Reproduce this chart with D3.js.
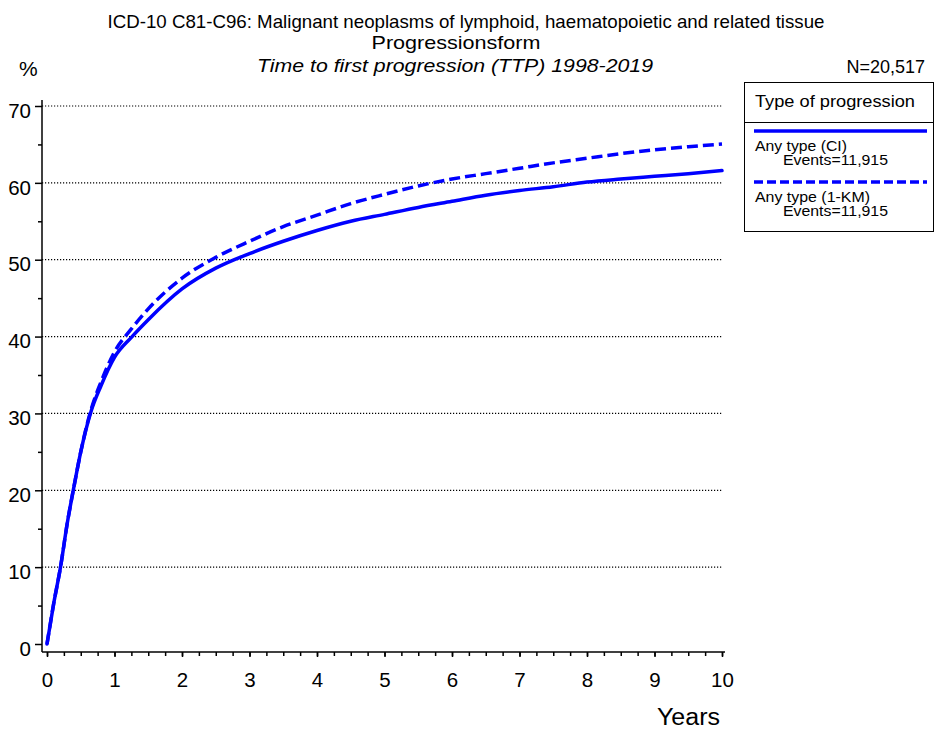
<!DOCTYPE html>
<html>
<head>
<meta charset="utf-8">
<script src="https://cdn.jsdelivr.net/npm/d3@7"></script>
<style>
  body { margin: 0; background: #fff; }
  svg text { font-family: Arial, "Liberation Sans", sans-serif; fill: #000; }
</style>
</head>
<body>
<svg id="chart" width="938" height="729"></svg>
<script>
// ------- data -------
var years = [0, 0.1, 0.2, 0.3, 0.4, 0.5, 0.65, 0.8, 1.0, 1.25, 1.5, 2.0, 2.5, 3.0, 3.5, 4.0,
             4.5, 5.0, 5.5, 6.0, 6.5, 7.0, 7.5, 8.0, 8.5, 9.0, 9.5, 10];
var anyCI = [0, 5.3, 10, 15.7, 20.5, 25, 30.2, 33.6, 37.3, 39.9, 42.2, 46.2, 48.9, 50.8, 52.4, 53.8,
             55.0, 55.9, 56.8, 57.6, 58.4, 59.0, 59.5, 60.1, 60.5, 60.85, 61.2, 61.6];
var anyKM = [0, 5.3, 10, 15.7, 20.5, 25, 30.4, 34.1, 38.0, 41.0, 43.6, 47.6, 50.3, 52.4, 54.3, 55.8,
             57.3, 58.5, 59.6, 60.5, 61.2, 61.9, 62.6, 63.2, 63.8, 64.3, 64.7, 65.05];
var yTicks = [0, 10, 20, 30, 40, 50, 60, 70];
var xTicks = [0, 1, 2, 3, 4, 5, 6, 7, 8, 9, 10];
var seriesNames = ["Any type (CI)", "Any type (1-KM)"];
var seriesEvents = ["Events=11,915", "Events=11,915"];

var svg = d3.select("#chart");

var x = d3.scaleLinear().domain([0, 10]).range([47, 722]);
var y = d3.scaleLinear().domain([0, 70]).range([644, 106]);

// ------- titles -------
svg.append("text").attr("x", 466).attr("y", 28).attr("text-anchor", "middle")
    .style("font-size", "18.5px")
    .attr("textLength", 717).attr("lengthAdjust", "spacingAndGlyphs")
    .text("ICD-10 C81-C96: Malignant neoplasms of lymphoid, haematopoietic and related tissue");
svg.append("text").attr("x", 456).attr("y", 49).attr("text-anchor", "middle")
    .style("font-size", "18.5px")
    .attr("textLength", 169).attr("lengthAdjust", "spacingAndGlyphs")
    .text("Progressionsform");
svg.append("text").attr("x", 455).attr("y", 72).attr("text-anchor", "middle")
    .style("font-size", "18.5px").style("font-style", "italic")
    .attr("textLength", 396).attr("lengthAdjust", "spacingAndGlyphs")
    .text("Time to first progression (TTP) 1998-2019");
svg.append("text").attr("x", 19).attr("y", 76).style("font-size", "21px").text("%");
svg.append("text").attr("x", 925).attr("y", 73).attr("text-anchor", "end")
    .style("font-size", "18px").text("N=20,517");

// ------- grid -------
svg.append("g").selectAll("line")
    .data(yTicks.filter(function (d) { return d > 0; }))
    .enter().append("line")
    .attr("x1", 42).attr("x2", 723)
    .attr("y1", function (d) { return y(d); })
    .attr("y2", function (d) { return y(d); })
    .attr("stroke", "#000").attr("stroke-width", 1.2)
    .attr("stroke-dasharray", "1.2,1.8");

// ------- axes -------
var yAxis = d3.axisLeft(y).tickValues(yTicks).tickSize(7).tickPadding(4);
var gy = svg.append("g").attr("transform", "translate(42,0)").call(yAxis);
gy.select(".domain").attr("d", "M0," + 652 + "V" + 100).attr("stroke-width", 1.5);
gy.selectAll(".tick line").attr("stroke-width", 1.5);
gy.selectAll(".tick text").style("font-size", "20.5px").attr("font-family", null).attr("dy", "0.55em");

var gyMinor = d3.axisLeft(y).tickValues([5, 15, 25, 35, 45, 55, 65]).tickSize(4).tickFormat("");
svg.append("g").attr("transform", "translate(42,0)").call(gyMinor)
    .call(function (g) { g.select(".domain").remove(); })
    .selectAll("line").attr("stroke-width", 1.5);

var minorX = d3.range(0, 41).map(function (i) { return i / 4; });
var gxMinor = d3.axisBottom(x).tickValues(minorX).tickSize(4).tickFormat("");
var gx = svg.append("g").attr("transform", "translate(0,652)").call(gxMinor);
gx.select(".domain").attr("d", "M42,0H725").attr("stroke-width", 1.5);
gx.selectAll("line").attr("stroke-width", 1.5);

var xAxis = d3.axisBottom(x).tickValues(xTicks).tickSize(5).tickPadding(15);
var gx2 = svg.append("g").attr("transform", "translate(0,652)").call(xAxis);
gx2.select(".domain").remove();
gx2.selectAll(".tick line").attr("stroke-width", 1.5);
gx2.selectAll(".tick text").style("font-size", "20.5px").attr("font-family", null);

svg.append("text").attr("x", 720).attr("y", 725).attr("text-anchor", "end")
    .style("font-size", "23px")
    .attr("textLength", 63).attr("lengthAdjust", "spacingAndGlyphs")
    .text("Years");

// ------- curves -------
var line = d3.line()
    .x(function (d) { return x(d[0]); })
    .y(function (d) { return y(d[1]); })
    .curve(d3.curveMonotoneX);

svg.append("path")
    .datum(years.map(function (t, i) { return [t, anyCI[i]]; }))
    .attr("d", line).attr("fill", "none")
    .attr("stroke", "#0000ff").attr("stroke-width", 3.5)
    .attr("stroke-linecap", "round");

svg.append("path")
    .datum(years.map(function (t, i) { return [t, anyKM[i]]; }))
    .attr("d", line).attr("fill", "none")
    .attr("stroke", "#0000ff").attr("stroke-width", 3.5)
    .attr("stroke-dasharray", "11,5");

// ------- legend -------
var lg = svg.append("g");
lg.append("rect").attr("x", 744.5).attr("y", 82.5).attr("width", 189).attr("height", 149)
    .attr("fill", "none").attr("stroke", "#000").attr("stroke-width", 1);
lg.append("line").attr("x1", 744.5).attr("x2", 933.5).attr("y1", 122.5).attr("y2", 122.5)
    .attr("stroke", "#000");
lg.append("text").attr("x", 755).attr("y", 107).style("font-size", "16.5px")
    .attr("textLength", 160).attr("lengthAdjust", "spacingAndGlyphs")
    .text("Type of progression");

var nameWidths = [92, 115];
var items = lg.selectAll(".item").data(seriesNames).enter().append("g")
    .attr("transform", function (d, i) { return "translate(0," + (i * 51) + ")"; });
items.append("line").attr("x1", 754).attr("x2", 927).attr("y1", 131).attr("y2", 131)
    .attr("stroke", "#0000ff").attr("stroke-width", 3.5)
    .attr("stroke-dasharray", function (d, i) { return i ? "9,4" : null; });
items.append("text").attr("x", 755).attr("y", 151).style("font-size", "14.5px")
    .attr("textLength", function (d, i) { return nameWidths[i]; })
    .attr("lengthAdjust", "spacingAndGlyphs")
    .text(function (d) { return d; });
items.append("text").attr("x", 783).attr("y", 165).style("font-size", "14.5px")
    .attr("textLength", 105).attr("lengthAdjust", "spacingAndGlyphs")
    .text(function (d, i) { return seriesEvents[i]; });
</script>
</body>
</html>
